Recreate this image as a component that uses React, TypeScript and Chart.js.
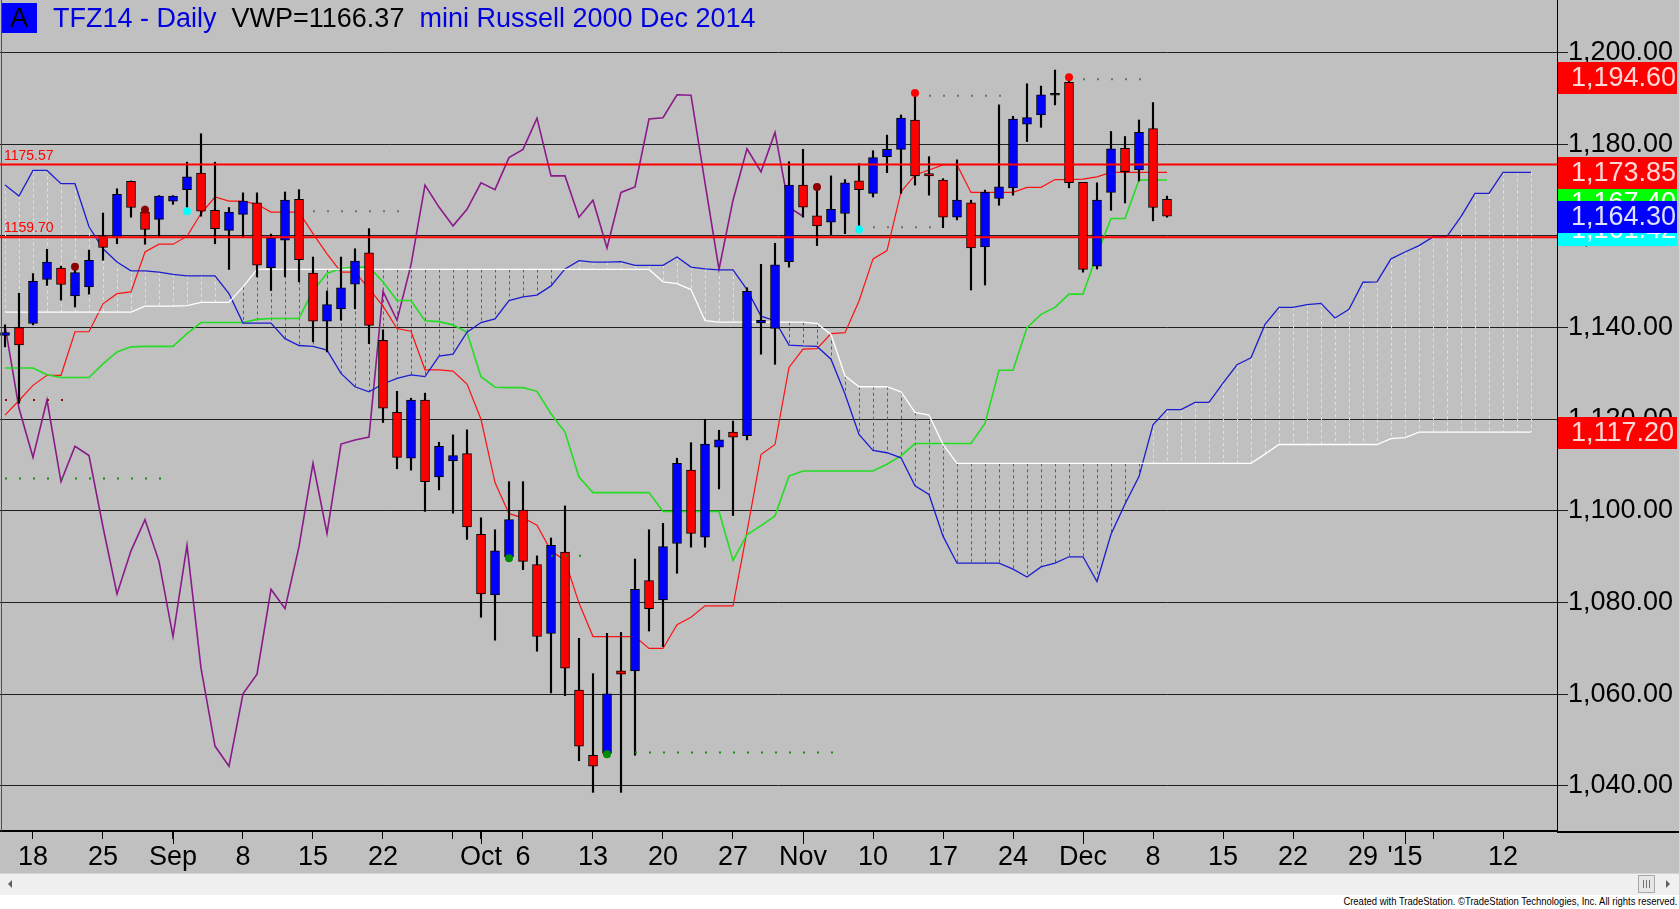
import React, { useEffect, useRef } from "react";
import { Chart, registerables } from "chart.js";

Chart.register(...registerables);

const FONT = '"Liberation Sans", Arial, Helvetica, sans-serif';

// Trading-day axis: day 0 = Mon 18 Aug 2014, 5 bars per week. First bar is Thu 14 Aug 2014.
const FIRST_DAY = -2;
const X_MIN = -2.357;
const X_MAX = 108.857;
const Y_MIN = 1030.17;
const Y_MAX = 1211.48;
const CHIKOU_SHIFT = 26;

// ---- price bars (14 Aug 2014 .. 9 Dec 2014) ----
const opens = [
  1138.3, 1140.0, 1140.9, 1150.5, 1153.0, 1146.9, 1148.9, 1159.9, 1159.9, 1171.9,
  1165.2, 1163.6, 1167.6, 1170.1, 1173.7, 1165.6, 1161.2, 1164.7, 1167.2, 1153.1,
  1159.1, 1168.0, 1151.9, 1141.4, 1144.1, 1149.5, 1156.3, 1137.2, 1121.5, 1111.5,
  1124.2, 1107.4, 1110.9, 1112.5, 1094.9, 1081.7, 1090.0, 1100.2, 1088.3, 1073.3,
  1091.0, 1060.9, 1046.7, 1047.1, 1065.1, 1065.1, 1084.8, 1080.6, 1092.9, 1108.9,
  1094.3, 1113.9, 1117.2, 1116.4, 1141.0, 1139.8, 1154.4, 1171.1, 1164.4, 1163.0,
  1164.9, 1172.0, 1169.3, 1177.3, 1178.9, 1185.3, 1173.6, 1172.2, 1164.1, 1167.2,
  1157.6, 1168.2, 1170.5, 1184.4, 1186.4, 1190.9, 1193.5, 1171.7, 1153.4, 1169.5,
  1179.1, 1174.4, 1183.4, 1168.0,
];
const highs = [
  1140.6, 1147.5, 1151.8, 1157.1, 1153.4, 1153.6, 1156.9, 1165.0, 1170.3, 1172.0,
  1166.5, 1168.8, 1168.8, 1176.1, 1182.3, 1176.1, 1166.2, 1169.4, 1169.4, 1160.4,
  1169.6, 1170.1, 1155.4, 1148.0, 1155.4, 1157.2, 1161.6, 1139.5, 1126.1, 1124.6,
  1125.7, 1115.0, 1116.6, 1117.7, 1098.5, 1095.9, 1106.4, 1106.4, 1090.2, 1094.1,
  1101.1, 1072.2, 1064.5, 1073.3, 1073.5, 1089.5, 1095.9, 1097.3, 1111.5, 1114.9,
  1120.0, 1117.6, 1119.6, 1148.7, 1153.8, 1158.4, 1176.2, 1178.9, 1170.7, 1173.1,
  1172.3, 1175.8, 1178.6, 1182.0, 1186.4, 1190.6, 1177.3, 1172.5, 1176.6, 1167.8,
  1170.0, 1188.6, 1186.1, 1193.2, 1192.7, 1196.2, 1194.6, 1171.7, 1171.6, 1182.8,
  1181.7, 1185.3, 1189.1, 1168.7,
];
const lows = [
  1135.8, 1123.5, 1140.6, 1149.2, 1146.0, 1144.5, 1147.3, 1154.7, 1158.3, 1164.1,
  1158.2, 1159.9, 1166.9, 1164.9, 1164.3, 1158.3, 1152.7, 1159.8, 1151.1, 1148.1,
  1151.1, 1150.0, 1136.9, 1134.7, 1141.6, 1144.1, 1136.5, 1119.3, 1109.2, 1108.9,
  1099.9, 1104.6, 1099.5, 1093.8, 1076.8, 1071.8, 1090.0, 1087.2, 1069.4, 1060.3,
  1059.7, 1045.5, 1038.6, 1046.7, 1038.6, 1046.7, 1073.8, 1070.4, 1086.4, 1092.1,
  1092.1, 1104.8, 1099.0, 1115.5, 1134.2, 1132.0, 1153.2, 1164.1, 1157.9, 1160.3,
  1160.5, 1161.6, 1168.5, 1173.8, 1169.3, 1171.1, 1168.9, 1161.8, 1163.5, 1148.2,
  1149.3, 1166.7, 1168.9, 1180.6, 1183.7, 1188.6, 1170.5, 1152.1, 1152.8, 1165.6,
  1167.2, 1172.0, 1163.3, 1164.1,
];
const closes = [
  1138.9, 1136.2, 1150.1, 1154.3, 1149.4, 1152.0, 1154.7, 1157.5, 1169.1, 1166.2,
  1161.4, 1168.7, 1168.7, 1172.9, 1165.4, 1161.6, 1165.2, 1167.6, 1153.6, 1159.6,
  1167.8, 1154.8, 1141.4, 1145.0, 1148.7, 1154.5, 1140.5, 1122.4, 1111.7, 1124.2,
  1106.4, 1114.1, 1112.1, 1096.5, 1081.9, 1091.3, 1098.1, 1089.0, 1072.6, 1092.5,
  1065.7, 1048.7, 1044.3, 1060.1, 1064.4, 1082.9, 1078.7, 1092.2, 1110.4, 1095.1,
  1114.6, 1115.5, 1116.1, 1147.9, 1141.6, 1153.7, 1171.1, 1166.3, 1162.2, 1165.8,
  1171.6, 1170.1, 1177.1, 1178.9, 1185.7, 1173.1, 1173.1, 1164.1, 1167.8, 1157.4,
  1169.5, 1170.7, 1185.5, 1185.8, 1190.8, 1190.7, 1171.6, 1152.7, 1167.8, 1179.0,
  1174.0, 1182.6, 1166.2, 1164.3,
];

// ---- Ichimoku lines ----
const tenkan = [
  1120.9, 1124.1, 1127.4, 1129.6, 1129.6, 1139.1, 1139.1, 1145.2, 1147.4, 1147.8,
  1156.5, 1158.2, 1158.2, 1159.9, 1164.9, 1168.5, 1167.6, 1167.6, 1166.9, 1165.2,
  1165.2, 1165.2, 1160.5, 1156.1, 1152.1, 1152.1, 1148.5, 1144.7, 1139.8, 1139.2,
  1130.8, 1130.8, 1130.5, 1127.7, 1120.0, 1106.2, 1099.4, 1098.5, 1096.9, 1091.3,
  1089.2, 1079.9, 1072.6, 1072.6, 1072.6, 1072.6, 1070.0, 1070.0, 1075.2, 1076.8,
  1079.3, 1079.3, 1079.3, 1095.5, 1112.3, 1114.5, 1131.3, 1135.3, 1135.4, 1138.7,
  1138.9, 1145.8, 1155.0, 1156.8, 1169.6, 1173.3, 1174.4, 1175.5, 1175.5, 1169.5,
  1169.5, 1169.5, 1169.5, 1170.6, 1170.6, 1172.3, 1172.3, 1172.4, 1172.9, 1173.85,
  1173.85, 1173.85, 1173.85, 1173.85,
];
const kijun = [
  1131.2, 1131.2, 1131.2, 1129.7, 1129.1, 1129.1, 1129.1, 1132.1, 1134.7, 1135.8,
  1135.9, 1135.9, 1135.9, 1138.7, 1141.1, 1141.1, 1141.1, 1141.1, 1141.8, 1142.0,
  1142.0, 1142.0, 1148.1, 1151.8, 1152.9, 1153.2, 1153.2, 1150.0, 1145.9, 1145.9,
  1141.5, 1141.3, 1140.6, 1139.0, 1129.3, 1127.0, 1126.9, 1126.9, 1126.1, 1121.2,
  1117.2, 1107.4, 1104.0, 1104.0, 1104.0, 1104.0, 1104.0, 1099.9, 1099.9, 1099.9,
  1099.9, 1099.9, 1089.2, 1094.8, 1096.8, 1098.9, 1107.6, 1108.7, 1108.7, 1108.7,
  1108.7, 1108.7, 1108.7, 1110.2, 1112.0, 1114.7, 1114.7, 1114.7, 1114.7, 1114.7,
  1119.1, 1130.7, 1130.7, 1140.0, 1142.9, 1144.4, 1147.3, 1147.3, 1156.0, 1163.8,
  1163.8, 1172.2, 1172.2, 1172.2,
];
// Leading spans, from 14 Aug 2014 through 16 Jan 2015 (26 bars ahead)
const senkouA = [
  1171.1, 1168.7, 1174.3, 1174.3, 1171.4, 1171.4, 1162.0, 1157.2, 1154.3, 1152.4,
  1152.4, 1152.1, 1151.6, 1151.3, 1151.3, 1151.3, 1147.4, 1141.0, 1141.0, 1141.0,
  1137.6, 1136.1, 1135.9, 1135.1, 1130.0, 1127.1, 1126.0, 1127.7, 1128.9, 1129.7,
  1129.3, 1133.8, 1134.2, 1139.0, 1141.1, 1141.9, 1145.9, 1146.7, 1147.1, 1149.1,
  1152.8, 1154.6, 1154.3, 1154.3, 1154.4, 1153.6, 1153.6, 1153.6, 1155.4, 1153.2,
  1152.8, 1152.6, 1152.6, 1148.3, 1142.5, 1141.5, 1136.2, 1136.0, 1135.9, 1133.1,
  1125.5, 1116.7, 1113.2, 1112.7, 1111.6, 1105.5, 1103.6, 1094.5, 1088.6, 1088.6,
  1088.6, 1088.6, 1087.3, 1085.6, 1087.8, 1088.6, 1090.0, 1090.0, 1084.6, 1094.9,
  1101.5, 1107.5, 1118.8, 1122.1, 1122.1, 1123.7, 1123.7, 1127.9, 1131.9, 1133.4,
  1140.7, 1144.4, 1144.4, 1145.0, 1145.3, 1142.1, 1144.0, 1149.9, 1150.0, 1155.0,
  1156.5, 1157.9, 1159.8, 1159.9, 1164.2, 1169.3, 1169.3, 1173.85, 1173.85, 1173.85,
];
const senkouB = [
  1143.4, 1143.4, 1143.4, 1143.4, 1143.4, 1143.4, 1143.4, 1143.4, 1143.4, 1143.4,
  1144.7, 1144.7, 1144.7, 1144.8, 1145.5, 1145.5, 1145.5, 1148.9, 1152.7, 1152.7,
  1152.7, 1152.7, 1152.7, 1152.7, 1152.7, 1152.7, 1152.7, 1152.7, 1152.7, 1152.7,
  1152.7, 1152.7, 1152.7, 1152.7, 1152.7, 1152.7, 1152.7, 1152.7, 1152.7, 1152.7,
  1152.7, 1152.7, 1152.7, 1152.7, 1152.7, 1152.7, 1152.7, 1150.0, 1149.6, 1148.3,
  1141.5, 1141.2, 1141.2, 1141.2, 1141.2, 1141.2, 1141.2, 1141.2, 1140.9, 1138.5,
  1129.5, 1127.1, 1127.1, 1127.1, 1126.0, 1121.5, 1120.9, 1114.5, 1110.4, 1110.4,
  1110.4, 1110.4, 1110.4, 1110.4, 1110.4, 1110.4, 1110.4, 1110.4, 1110.4, 1110.4,
  1110.4, 1110.4, 1110.4, 1110.4, 1110.4, 1110.4, 1110.4, 1110.4, 1110.4, 1110.4,
  1112.4, 1114.5, 1114.5, 1114.5, 1114.5, 1114.5, 1114.5, 1114.5, 1114.5, 1115.8,
  1116.0, 1117.2, 1117.2, 1117.2, 1117.2, 1117.2, 1117.2, 1117.2, 1117.2, 1117.2,
];

// ---- horizontal levels ----
const levelValues = [1175.57, 1159.7];

// swing markers (day index, price)
const redDotDays = [63, 74];
const redDotPrices = [1191.2, 1194.6];
const maroonDotDays = [3, 8, 56];
const maroonDotPrices = [1153.3, 1165.7, 1170.7];
const cyanDotDays = [11, 59];
const cyanDotPrices = [1165.4, 1161.42];
const greenDotDays = [34, 41];
const greenDotPrices = [1089.7, 1046.9];

// dotted level traces: [fromDay, toDay, price]
const grayTraces = [
  [64, 70, 1190.6],
  [75, 80, 1194.2],
  [20, 27, 1165.4],
  [60, 65, 1161.9],
];
const greenTraces = [
  [-2, 10, 1107.1],
  [37, 40, 1090.2],
  [43, 58, 1047.3],
];
const maroonTraces = [[-2, 3, 1124.2]];

// price-scale markers
const markerValues = [1167.4, 1161.42, 1173.85, 1164.3, 1194.6, 1117.2];
const markerKinds = ["kijun", "swingLow", "tenkan", "last", "swingHigh", "spanB"];

// axis ticks
const xTickDays = [0, 5, 10, 15, 20, 25, 30, 32, 35, 40, 45, 50, 55, 60, 65, 70, 75, 80, 85, 90, 95, 98, 100, 105];
const xTickLabels = ["18", "25", "Sep", "8", "15", "22", "", "Oct", "6", "13", "20", "27", "Nov", "10", "17", "24", "Dec", "8", "15", "22", "29", "'15", "", "12"];
const monthStartDays = [10, 32, 55, 75, 98];
const yTickValues = [1040, 1060, 1080, 1100, 1120, 1140, 1160, 1180, 1200];

const markerStyles: Record<string, { bg: string; fg: string }> = {
  kijun: { bg: "#00ff00", fg: "#ffffff" },
  swingLow: { bg: "#00ffff", fg: "#ffffff" },
  tenkan: { bg: "#ff0000", fg: "#ffd8d8" },
  last: { bg: "#0000ff", fg: "#e0e0ff" },
  swingHigh: { bg: "#ff0000", fg: "#ffd8d8" },
  spanB: { bg: "#ff0000", fg: "#ffd8d8" },
};

const fmt = (v: number) =>
  v.toLocaleString("en-US", { minimumFractionDigits: 2, maximumFractionDigits: 2 });

const cloudPlugin = {
  id: "cloudHatch",
  beforeDatasetsDraw(chart: any) {
    const { ctx, chartArea, scales } = chart;
    const xs = scales.x;
    const ys = scales.y;
    ctx.save();
    ctx.beginPath();
    ctx.rect(chartArea.left, chartArea.top, chartArea.right - chartArea.left, chartArea.bottom - chartArea.top);
    ctx.clip();
    ctx.lineWidth = 1;
    ctx.setLineDash([3, 3]);
    for (let i = 0; i < senkouA.length; i++) {
      const a = senkouA[i];
      const b = senkouB[i];
      if (Math.abs(a - b) < 0.05) continue;
      const px = Math.round(xs.getPixelForValue(FIRST_DAY + i)) + 0.5;
      ctx.strokeStyle = a >= b ? "#ffff00" : "#ff1a1a";
      ctx.beginPath();
      ctx.moveTo(px, ys.getPixelForValue(Math.max(a, b)));
      ctx.lineTo(px, ys.getPixelForValue(Math.min(a, b)));
      ctx.stroke();
    }
    ctx.restore();
  },
};

const overlayPlugin = {
  id: "overlay",
  afterDraw(chart: any) {
    const { ctx, chartArea, scales, width } = chart;
    const xs = scales.x;
    const ys = scales.y;
    ctx.save();
    ctx.strokeStyle = "#505050";
    ctx.lineWidth = 1;
    ctx.beginPath();
    ctx.moveTo(1.5, 0);
    ctx.lineTo(1.5, chartArea.bottom);
    ctx.stroke();
    ctx.strokeStyle = "#000";
    ctx.lineWidth = 2;
    ctx.beginPath();
    ctx.moveTo(chartArea.right, chartArea.bottom + 1);
    ctx.lineTo(width, chartArea.bottom + 1);
    ctx.stroke();
    // longer ticks at month starts
    ctx.lineWidth = 1;
    monthStartDays.forEach((d) => {
      const px = Math.round(xs.getPixelForValue(d)) + 0.5;
      ctx.beginPath();
      ctx.moveTo(px, chartArea.bottom);
      ctx.lineTo(px, chartArea.bottom + 13);
      ctx.stroke();
    });

    ctx.font = `14px ${FONT}`;
    ctx.fillStyle = "#ff0000";
    ctx.textAlign = "left";
    ctx.textBaseline = "alphabetic";
    levelValues.forEach((v) => ctx.fillText(v.toFixed(2), 4, ys.getPixelForValue(v) - 5));

    ctx.font = `27px ${FONT}`;
    ctx.textBaseline = "middle";
    markerValues.forEach((v, i) => {
      const st = markerStyles[markerKinds[i]];
      const cy = Math.round(ys.getPixelForValue(v)) + 1;
      ctx.fillStyle = st.bg;
      ctx.fillRect(chartArea.right + 1, cy - 16, width - chartArea.right - 3, 32);
      ctx.fillStyle = st.fg;
      ctx.fillText(fmt(v), chartArea.right + 14, cy + 1);
    });
    ctx.restore();
  },
};

function lineSet(values: number[], color: string, width: number, order: number) {
  return {
    type: "line" as const,
    data: values.map((v, i) => ({ x: FIRST_DAY + i, y: v })),
    borderColor: color,
    borderWidth: width,
    pointRadius: 0,
    tension: 0,
    fill: false,
    order,
  };
}

function dotSet(days: number[], prices: number[], color: string) {
  return {
    type: "line" as const,
    data: days.map((d, i) => ({ x: d, y: prices[i] })),
    showLine: false,
    pointRadius: 4,
    pointBackgroundColor: color,
    pointBorderWidth: 0,
    order: 1,
  };
}

function traceSets(traces: number[][], color: string) {
  return traces.map((t) => ({
    type: "line" as const,
    data: [
      { x: t[0], y: t[2] },
      { x: t[1], y: t[2] },
    ],
    borderColor: color,
    borderWidth: 2,
    borderDash: [2, 12],
    pointRadius: 0,
    fill: false,
    order: 3,
  }));
}

export default function App() {
  const ref = useRef<HTMLCanvasElement | null>(null);

  useEffect(() => {
    const canvas = ref.current;
    if (!canvas) return;

    const bodyColors = opens.map((o, i) => {
      const c = closes[i];
      if (Math.abs(c - o) < 0.3) return "#000000";
      return c > o ? "#0000ff" : "#ff0000";
    });

    // lagging span: each close plotted 26 bars back, only where a bar exists
    const chikou = closes
      .map((c, i) => ({ x: FIRST_DAY + i - CHIKOU_SHIFT, y: c }))
      .filter((p) => p.x >= FIRST_DAY);

    const datasets: any[] = [
      lineSet(senkouB, "#ffffff", 1.3, 10),
      lineSet(senkouA, "#1c1cd0", 1.3, 10),
      lineSet(kijun, "#22dd22", 1.6, 10),
      lineSet(tenkan, "#ff1010", 1.2, 10),
      {
        type: "line",
        data: chikou,
        borderColor: "#8a1a8a",
        borderWidth: 1.6,
        pointRadius: 0,
        tension: 0,
        fill: false,
        order: 10,
      },
      {
        type: "bar",
        data: lows.map((l, i) => ({ x: FIRST_DAY + i, y: [l, highs[i]] })),
        backgroundColor: "#000000",
        barThickness: 1.5,
        grouped: false,
        order: 6,
      },
      {
        type: "bar",
        data: opens.map((o, i) => ({ x: FIRST_DAY + i, y: [o, closes[i]] })),
        backgroundColor: bodyColors,
        borderColor: "#000000",
        borderWidth: 1,
        borderSkipped: false,
        barThickness: 9,
        minBarLength: 2,
        grouped: false,
        order: 5,
      },
      ...traceSets(grayTraces, "#707070"),
      ...traceSets(greenTraces, "#109010"),
      ...traceSets(maroonTraces, "#8b1010"),
      ...levelValues.map((v) => ({
        type: "line",
        data: [
          { x: X_MIN, y: v },
          { x: X_MAX, y: v },
        ],
        borderColor: "#ff0000",
        borderWidth: 2,
        pointRadius: 0,
        fill: false,
        order: 2,
      })),
      dotSet(redDotDays, redDotPrices, "#ff0000"),
      dotSet(maroonDotDays, maroonDotPrices, "#8b0000"),
      dotSet(cyanDotDays, cyanDotPrices, "#00ffff"),
      dotSet(greenDotDays, greenDotPrices, "#008c00"),
    ];

    const chart = new Chart(canvas, {
      type: "bar",
      data: { datasets },
      options: {
        animation: false,
        responsive: false,
        maintainAspectRatio: false,
        events: [],
        layout: { padding: 0, autoPadding: false },
        plugins: { legend: { display: false }, tooltip: { enabled: false }, title: { display: false } },
        scales: {
          x: {
            type: "linear",
            position: "bottom",
            min: X_MIN,
            max: X_MAX,
            offset: false,
            afterBuildTicks: (s: any) => {
              s.ticks = xTickDays.map((v) => ({ value: v }));
            },
            afterFit: (s: any) => {
              s.height = 42;
              s.paddingLeft = 0;
              s.paddingRight = 0;
            },
            grid: { drawOnChartArea: false, drawTicks: true, tickLength: 8, color: "#000", offset: false },
            border: { display: true, color: "#000", width: 2 },
            ticks: {
              autoSkip: false,
              maxRotation: 0,
              minRotation: 0,
              padding: 2,
              color: "#000",
              font: { family: FONT, size: 27 },
              callback: (_v: any, i: number) => xTickLabels[i],
            },
          },
          y: {
            type: "linear",
            position: "right",
            min: Y_MIN,
            max: Y_MAX,
            afterBuildTicks: (s: any) => {
              s.ticks = yTickValues.map((v) => ({ value: v }));
            },
            afterFit: (s: any) => {
              s.width = 122;
              s.paddingTop = 0;
              s.paddingBottom = 0;
            },
            grid: { color: "#202020", lineWidth: 1, drawTicks: true, tickLength: 11 },
            border: { display: true, color: "#000", width: 1 },
            ticks: {
              padding: 0,
              color: "#000",
              font: { family: FONT, size: 27 },
              callback: (v: any) => fmt(Number(v)),
            },
          },
        },
      } as any,
      plugins: [cloudPlugin, overlayPlugin],
    });

    return () => chart.destroy();
  }, []);

  return (
    <div
      style={{
        position: "fixed",
        left: 0,
        top: 0,
        width: 1679,
        height: 909,
        background: "#ffffff",
        overflow: "hidden",
        fontFamily: FONT,
      }}
    >
      <div style={{ position: "absolute", left: 0, top: 0, width: 1679, height: 873, background: "#c0c0c0" }}>
        <canvas ref={ref} width={1679} height={873} style={{ display: "block", width: 1679, height: 873 }} />
        <div
          style={{
            position: "absolute",
            left: 2,
            top: 3,
            width: 35,
            height: 30,
            background: "#0000ff",
            color: "#000",
            font: `27px ${FONT}`,
            lineHeight: "31px",
            textAlign: "center",
          }}
        >
          A
        </div>
        <div
          style={{
            position: "absolute",
            left: 53,
            top: 1,
            font: `27px ${FONT}`,
            lineHeight: "34px",
            whiteSpace: "pre",
          }}
        >
          <span style={{ color: "#0000e0" }}>TFZ14 - Daily</span>
          <span style={{ color: "#000" }}>{"  VWP=1166.37  "}</span>
          <span style={{ color: "#0000e0" }}>mini Russell 2000 Dec 2014</span>
        </div>
      </div>
      <div
        style={{
          position: "absolute",
          left: 0,
          top: 873,
          width: 1679,
          height: 22,
          background: "#f0f0f0",
          borderTop: "1px solid #d4d4d4",
          boxSizing: "border-box",
        }}
      >
        <div
          style={{
            position: "absolute",
            left: 8,
            top: 6,
            width: 0,
            height: 0,
            borderTop: "4px solid transparent",
            borderBottom: "4px solid transparent",
            borderRight: "4px solid #606060",
          }}
        />
        <div
          style={{
            position: "absolute",
            left: 1638,
            top: 1,
            width: 17,
            height: 18,
            background: "#e6e6e6",
            border: "1px solid #a8a8a8",
            boxSizing: "border-box",
            display: "flex",
            justifyContent: "center",
            alignItems: "center",
            gap: 2,
          }}
        >
          <div style={{ width: 1, height: 8, background: "#707070" }} />
          <div style={{ width: 1, height: 8, background: "#707070" }} />
          <div style={{ width: 1, height: 8, background: "#707070" }} />
        </div>
        <div
          style={{
            position: "absolute",
            left: 1666,
            top: 6,
            width: 0,
            height: 0,
            borderTop: "4px solid transparent",
            borderBottom: "4px solid transparent",
            borderLeft: "4px solid #606060",
          }}
        />
      </div>
      <div
        style={{
          position: "absolute",
          right: 2,
          top: 895,
          fontSize: 11,
          lineHeight: "13px",
          color: "#000",
          whiteSpace: "nowrap",
          transform: "scaleX(0.86)",
          transformOrigin: "right center",
        }}
      >
        Created with TradeStation. ©TradeStation Technologies, Inc. All rights reserved.
      </div>
    </div>
  );
}
